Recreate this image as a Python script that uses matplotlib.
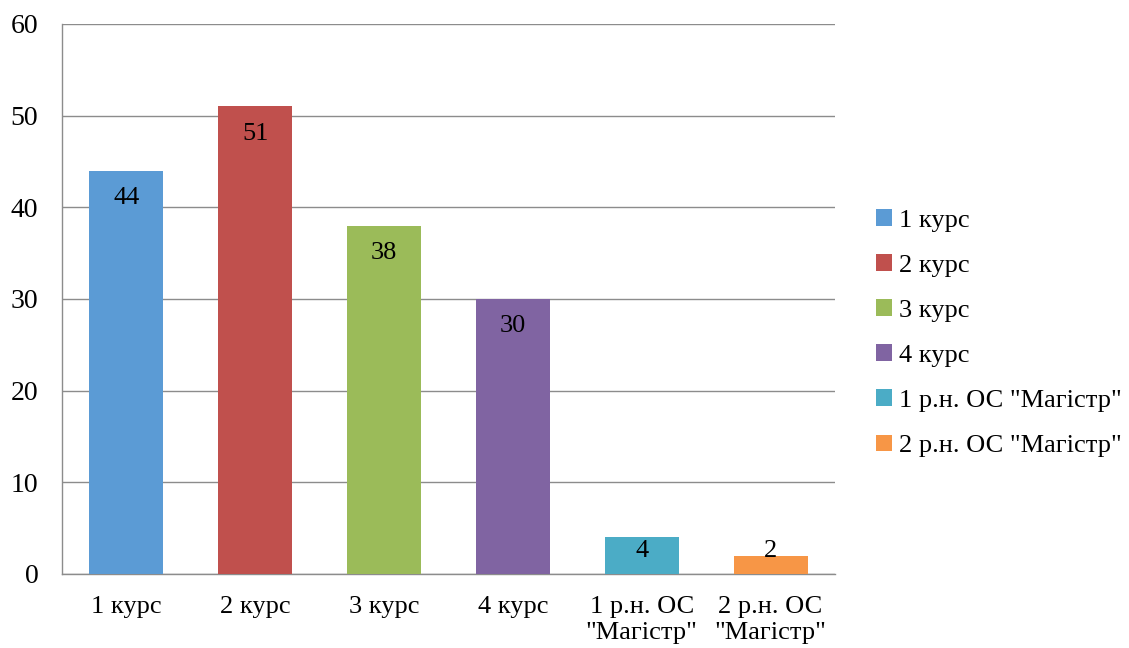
import matplotlib.pyplot as plt
from matplotlib.patches import Patch

plt.rcParams['font.family'] = ['Liberation Serif', 'DejaVu Serif']

categories = ['1 курс', '2 курс', '3 курс', '4 курс', '1 р.н. ОС\n"Магістр"', '2 р.н. ОС\n"Магістр"']
legend_labels = ['1 курс', '2 курс', '3 курс', '4 курс', '1 р.н. ОС "Магістр"', '2 р.н. ОС "Магістр"']
values = [44, 51, 38, 30, 4, 2]
colors = ['#5B9BD5', '#C0504D', '#9BBB59', '#8064A2', '#4BACC6', '#F79646']

fig = plt.figure(figsize=(11.29, 6.48), dpi=100)
ax = fig.add_axes([0.0549, 0.1142, 0.6847, 0.8488])

x = range(len(values))
bars = ax.bar(x, values, width=0.575, color=colors, zorder=3)

for xi, v in zip(x, values):
    ax.text(xi, max(v - 3.0, 2.55), str(v), ha='center', va='center',
            fontsize=19, color='black', zorder=4)

ax.set_xlim(-0.5, len(values) - 0.5)
ax.set_ylim(0, 60)
ax.set_yticks(range(0, 61, 10))
ax.set_xticks(list(x))
ax.set_xticklabels(categories, fontsize=19, linespacing=1.25)
ax.tick_params(axis='y', labelsize=20, length=0, pad=17)
ax.tick_params(axis='x', length=0, pad=16)
ax.yaxis.grid(True, color='#8c8c8c', linewidth=1, zorder=0)
ax.set_axisbelow(True)
for s in ['top', 'right']:
    ax.spines[s].set_visible(False)
for s in ['left', 'bottom']:
    ax.spines[s].set_color('#8c8c8c')
    ax.spines[s].set_linewidth(1)

handles = [Patch(facecolor=c, edgecolor='none') for c in colors]
fig.legend(handles, legend_labels, loc='center left', bbox_to_anchor=(0.755, 0.486),
           frameon=False, fontsize=19, handlelength=0.6, handleheight=0.6,
           handletextpad=0.25, labelspacing=0.85)

fig.savefig('out.png', dpi=100)
